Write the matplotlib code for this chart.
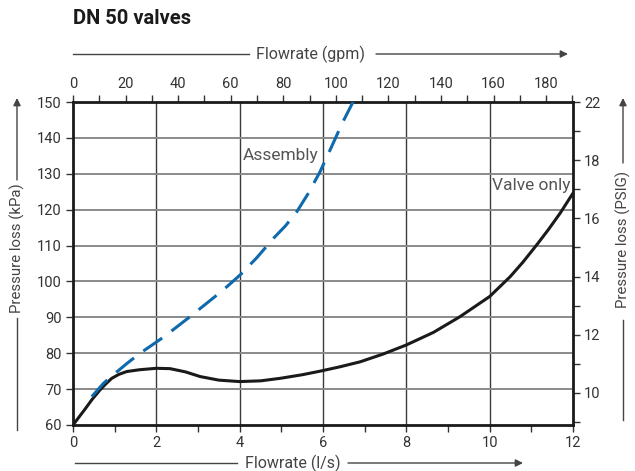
import matplotlib
matplotlib.use("Agg")
import matplotlib.pyplot as plt
import numpy as np
from matplotlib.lines import Line2D

plt.rcParams['font.family'] = ['Roboto', 'DejaVu Sans']

# ---- data ----
valve_x = [0.0, 0.15, 0.3, 0.45, 0.65, 0.8, 0.93, 1.1, 1.29, 1.6, 2.0, 2.33, 2.7, 3.05, 3.5, 4.0, 4.5,
           4.97, 5.5, 5.93, 6.4, 6.89, 7.45, 8.0, 8.65, 9.29, 10.0, 10.49, 10.8, 11.13, 11.4, 11.69, 12.0]
valve_y = [60.0, 62.3, 64.6, 67.0, 69.8, 71.6, 73.0, 74.1, 74.9, 75.4, 75.8, 75.7, 74.8, 73.5, 72.5, 72.1, 72.3,
           73.0, 74.0, 75.0, 76.2, 77.6, 79.8, 82.3, 85.8, 90.2, 95.8, 101.3, 105.4, 110.2, 114.3, 119.0, 124.6]

assembly_x = [0.45, 0.73, 1.01, 1.3, 1.61, 1.9, 2.21, 2.51, 2.81, 3.11, 3.41, 3.71, 4.01, 4.41, 4.81,
              5.1, 5.37, 5.65, 5.93, 6.2, 6.47, 6.72]
assembly_y = [67.9, 71.6, 74.4, 77.2, 80.0, 82.3, 84.8, 87.5, 90.2, 93.0, 95.8, 98.7, 101.8, 106.6, 112.0,
              115.5, 119.4, 124.6, 130.6, 137.4, 144.3, 150.0]

ls_ticks = [0, 2, 4, 6, 8, 10, 12]
kpa_ticks = [60, 70, 80, 90, 100, 110, 120, 130, 140, 150]
gpm_ticks = list(range(0, 200, 10))
gpm_labels = [str(g) if g % 20 == 0 and g <= 180 else "" for g in gpm_ticks]
psi_ticks = list(range(9, 21))
psi_labels = {10: "10", 12: "12", 14: "14", 16: "16", 18: "18", 20: "22"}

GPM_PER_LS = 15.85
PSI_LO, PSI_HI = 8.9, 20.0

W, H = 635, 471
fig = plt.figure(figsize=(W / 100, H / 100), dpi=100)
ax = fig.add_axes([73 / W, 1 - 425 / H, 500 / W, 323 / H])

ax.set_xlim(0, 12)
ax.set_ylim(60, 150)

# grid
for xv in ls_ticks[1:-1]:
    ax.axvline(xv, color='#3a3a3a', lw=1.0, zorder=1)
for yv in kpa_ticks[1:-1]:
    ax.axhline(yv, color='#8a8a8a', lw=1.4, zorder=1)

ax.plot(valve_x, valve_y, color='#1a1a1a', lw=2.2, zorder=3, solid_capstyle='round',
        solid_joinstyle='round')
ax.plot(assembly_x, assembly_y, color='#0f6aad', lw=2.2, zorder=3,
        dashes=(7.5, 3.8))

ax.text(4.08, 135.2, "Assembly", fontsize=12.5, color='#555555', ha='left', va='center', zorder=4)
ax.text(11.95, 126.6, "Valve only", fontsize=12.5, color='#555555', ha='right', va='center', zorder=4)

for s in ax.spines.values():
    s.set_linewidth(2.0)
    s.set_color('#1a1a1a')

tick_kw = dict(direction='out', length=5, width=1, color='#333333', labelcolor='#333333', labelsize=10.5, pad=3)
ax.set_xticks(np.arange(0, 13, 1))
ax.set_xticklabels([str(v) if v in ls_ticks else "" for v in range(13)])
ax.set_yticks(kpa_ticks)
ax.set_yticklabels([str(v) for v in kpa_ticks])
ax.tick_params(axis='both', **tick_kw)

top = ax.secondary_xaxis('top', functions=(lambda x: x * GPM_PER_LS, lambda g: g / GPM_PER_LS))
top.set_xticks(gpm_ticks)
top.set_xticklabels(gpm_labels)
top.tick_params(**tick_kw)
top.spines['top'].set_visible(False)

k2p = lambda k: PSI_LO + (k - 60) * (PSI_HI - PSI_LO) / 90.0
p2k = lambda p: 60 + (p - PSI_LO) * 90.0 / (PSI_HI - PSI_LO)
right = ax.secondary_yaxis('right', functions=(k2p, p2k))
right.set_yticks(psi_ticks)
right.set_yticklabels([psi_labels.get(p, "") for p in psi_ticks])
right.tick_params(**tick_kw)
right.spines['right'].set_visible(False)

# ---- title and axis captions with arrows ----
def fx(x):
    return x / W

def fy(y):
    return 1 - y / H

fig.text(fx(73), fy(18), "DN 50 valves", fontsize=14.5, fontweight='bold', color='#1a1a1a', ha='left', va='center')

cap_col = '#444444'
cap_kw = dict(fontsize=11.5, color=cap_col)
vcap_kw = dict(fontsize=10.8, color=cap_col)

def hline(x0, x1, y):
    fig.add_artist(Line2D([fx(x0), fx(x1)], [fy(y), fy(y)], color=cap_col, lw=1.0))

def vline(x, y0, y1):
    fig.add_artist(Line2D([fx(x), fx(x)], [fy(y0), fy(y1)], color=cap_col, lw=1.0))

def arrow(x0, y0, x1, y1):
    fig.add_artist(matplotlib.patches.FancyArrowPatch(
        (fx(x0), fy(y0)), (fx(x1), fy(y1)), transform=fig.transFigure,
        arrowstyle='-|>', mutation_scale=11, color=cap_col, lw=1.0, shrinkA=0, shrinkB=0))

# top
fig.text(fx(311), fy(54), "Flowrate (gpm)", ha='center', va='center', **cap_kw)
hline(73, 249, 54)
arrow(376, 54, 568, 54)
# bottom
fig.text(fx(293), fy(463), "Flowrate (l/s)", ha='center', va='center', **cap_kw)
hline(75, 237, 463)
arrow(348, 463, 523, 463)
# left
fig.text(fx(17), fy(248), "Pressure loss (kPa)", ha='center', va='center', rotation=90, **vcap_kw)
vline(17, 430, 318)
arrow(17, 180, 17, 98)
# right
fig.text(fx(623), fy(240), "Pressure loss (PSIG)", ha='center', va='center', rotation=90, **vcap_kw)
vline(623, 420, 320)
arrow(623, 163, 623, 98)

fig.savefig("out.png", dpi=100)
